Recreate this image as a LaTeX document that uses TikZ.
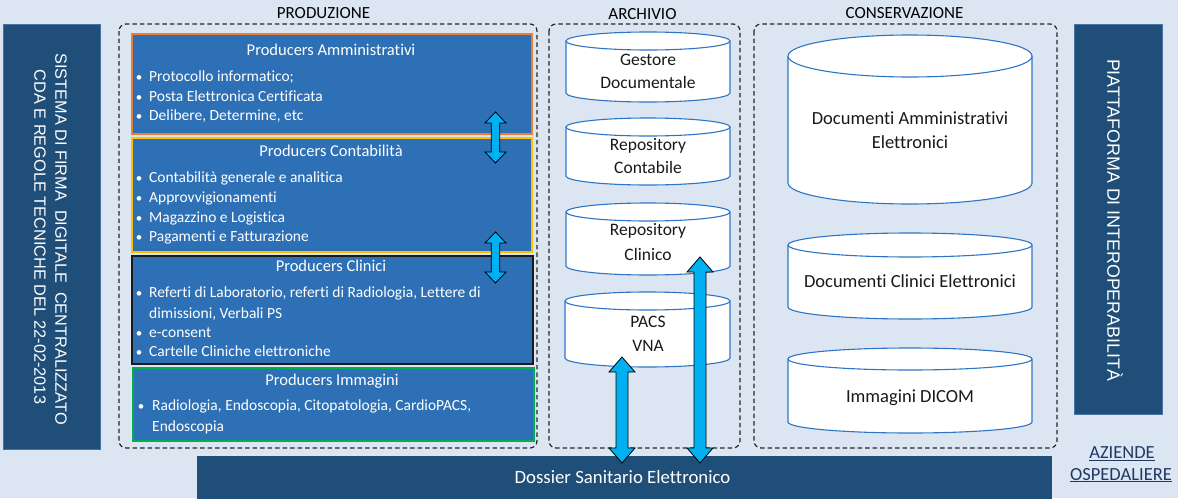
\documentclass[tikz,border=0pt]{standalone}
\usepackage{fontspec}
\setmainfont{Carlito}[Ligatures=NoCommon]
\newfontfamily\arialf{Liberation Sans}
\definecolor{bgc}{HTML}{DCE6F2}
\definecolor{darkpanel}{HTML}{1F4E79}
\definecolor{panelborder}{HTML}{4A72A8}
\definecolor{prodblue}{HTML}{2E70B5}
\definecolor{ammborder}{HTML}{ED7D31}
\definecolor{contborder}{HTML}{FFC000}
\definecolor{clinborder}{HTML}{1A1A1A}
\definecolor{immborder}{HTML}{00B050}
\definecolor{cylline}{HTML}{2E75C6}
\definecolor{arrcyan}{HTML}{00B0F0}
\definecolor{aziende}{HTML}{203864}
\newcommand\cylinder[6]{%
  \pgfmathsetmacro\cylrx{(#4-#2)/2}%
  \filldraw[cylstyle] (#2,-#3-#6) -- (#2,-#5+#6)
     arc[start angle=180,end angle=360,x radius=\cylrx pt,y radius=#6 pt]
     -- (#4,-#3-#6)
     arc[start angle=0,end angle=180,x radius=\cylrx pt,y radius=#6 pt] -- cycle;
  \draw[cylstyle] (#2,-#3-#6) arc[start angle=180,end angle=360,x radius=\cylrx pt,y radius=#6 pt];
  \coordinate (#1) at ({(#2+#4)/2},{-(#3+#5)/2});
}
\newcommand\blockarrow[7]{%
  \coordinate (#1 top) at (#2,-#3);
  \coordinate (#1 bot) at (#2,-#4);
  \filldraw[blockarr] (#1 top) -- ++(#6,-#7) -- ++({-(#6-#5)},0) -- ++(0,{-(#4-#3-2*#7)})
     -- ++({#6-#5},0) -- (#1 bot) -- ++({-#6},#7) -- ++({#6-#5},0)
     -- ++(0,{#4-#3-2*#7}) -- ++({-(#6-#5)},0) -- cycle;
}
\tikzset{
  cylstyle/.style={draw=cylline, fill=white, line width=1.1pt},
  blockarr/.style={draw=black, fill=arrcyan, line width=0.8pt, line join=miter},
  panel/.style={fill=darkpanel, draw=panelborder, line width=0.8pt, anchor=north west, inner sep=0},
  prodbox/.style={fill=prodblue, line width=1.5pt, anchor=north west, inner sep=0},
  dashbox/.style={draw=black!85, dash pattern=on 4.5pt off 3pt, line width=1.2pt, rounded corners=7pt},
  ptitle/.style={anchor=base, text=white, inner sep=0, font=\fontsize{16.5}{20}\selectfont},
  pitem/.style={anchor=base west, text=white, inner sep=0, font=\fontsize{15.5}{19}\selectfont},
  pbullet/.style={anchor=base, text=white, inner sep=0, font=\fontsize{13}{19}\selectfont},
  seclabel/.style={anchor=base, text=black, inner sep=0, font=\fontsize{17}{20}\selectfont},
  cyltext/.style={anchor=base, text=black!90, inner sep=0, font=\fontsize{17.5}{22}\selectfont},
  vtext/.style={text=white, inner sep=0, rotate=-90},
}
\begin{document}
\begin{tikzpicture}[x=1pt,y=1pt]
\useasboundingbox (0,0) rectangle (1178,-498);
\fill[bgc] (0,0) rectangle (1178,-498);

% side panels
\node[panel, minimum width=97pt, minimum height=425pt] (leftpanel) at (3,-24) {};
\node[vtext, font=\arialf\fontsize{16.3}{20}\selectfont] (lefttext1) at (61,-239) {SISTEMA DI FIRMA\ \ DIGITALE\ \ CENTRALIZZATO};
\node[vtext, font=\arialf\fontsize{16.3}{20}\selectfont] (lefttext2) at (40,-237) {CDA E REGOLE TECNICHE DEL 22-02-2013};
\node[panel, minimum width=88pt, minimum height=390pt] (rightpanel) at (1074,-24) {};
\node[vtext, font=\arialf\fontsize{17.8}{20}\selectfont] (righttext) at (1115,-220) {PIATTAFORMA DI INTEROPERABILITÀ};

% dashed groups
\draw[dashbox] (119,-24) rectangle (537,-448);
\draw[dashbox] (549,-24) rectangle (740,-448);
\draw[dashbox] (754,-24) rectangle (1057,-448);
\node[seclabel] (lprod) at (323.5,-18.3) {PRODUZIONE};
\node[seclabel] (larch) at (642.5,-19.5) {ARCHIVIO};
\node[seclabel] (lcons) at (904.5,-18.3) {CONSERVAZIONE};

% producers
\node[prodbox, draw=ammborder, minimum width=400pt, minimum height=100pt] (amm) at (131,-33) {};
\node[prodbox, draw=contborder, minimum width=400pt, minimum height=114pt] (cont) at (131,-137) {};
\node[prodbox, draw=clinborder, minimum width=401pt, minimum height=108pt] (clin) at (131,-255) {};
\node[prodbox, draw=immborder, minimum width=401pt, minimum height=73pt] (imm) at (132,-367) {};

\node[ptitle] (ammt) at (331,-55) {Producers Amministrativi};
\node[pbullet] (ammb1) at (139,-81.7) {•};
\node[pitem] (ammi1) at (149,-81.7) {Protocollo informatico;};
\node[pbullet] (ammb2) at (139,-101.7) {•};
\node[pitem] (ammi2) at (149,-101.7) {Posta Elettronica Certificata};
\node[pbullet] (ammb3) at (139,-120.7) {•};
\node[pitem] (ammi3) at (149,-120.7) {Delibere, Determine, etc};

\node[ptitle] (contt) at (331,-156.7) {Producers Contabilità};
\node[pbullet] (contb1) at (139,-182.7) {•};
\node[pitem] (conti1) at (149,-182.7) {Contabilità generale e analitica};
\node[pbullet] (contb2) at (139,-202.7) {•};
\node[pitem] (conti2) at (149,-202.7) {Approvvigionamenti};
\node[pbullet] (contb3) at (139,-222.2) {•};
\node[pitem] (conti3) at (149,-222.2) {Magazzino e Logistica};
\node[pbullet] (contb4) at (139,-241.7) {•};
\node[pitem] (conti4) at (149,-241.7) {Pagamenti e Fatturazione};

\node[ptitle] (clint) at (331,-271.7) {Producers Clinici};
\node[pbullet] (clinb1) at (139,-297.7) {•};
\node[pitem] (clini1) at (149,-297.7) {Referti di Laboratorio, referti di Radiologia, Lettere di};
\node[pitem] (clini1b) at (149,-318) {dimissioni, Verbali PS};
\node[pbullet] (clinb2) at (139,-337.3) {•};
\node[pitem] (clini2) at (149,-337.3) {e-consent};
\node[pbullet] (clinb3) at (139,-356.7) {•};
\node[pitem] (clini3) at (149,-356.7) {Cartelle Cliniche elettroniche};

\node[ptitle] (immt) at (332,-385) {Producers Immagini};
\node[pbullet] (immb1) at (141,-410.7) {•};
\node[pitem] (immi1) at (152,-410.7) {Radiologia, Endoscopia, Citopatologia, CardioPACS,};
\node[pitem] (immi1b) at (152,-431) {Endoscopia};

% archive cylinders
\cylinder{gestore}{566}{32}{730}{102}{9}
\node[cyltext] (gestore1) at (648,-65) {Gestore};
\node[cyltext] (gestore2) at (648,-88.3) {Documentale};
\cylinder{repcont}{566}{118}{730}{185}{9}
\node[cyltext] (repcont1) at (648,-150) {Repository};
\node[cyltext] (repcont2) at (648,-173.3) {Contabile};
\cylinder{repclin}{566}{203}{730}{275}{9}
\node[cyltext] (repclin1) at (648,-235) {Repository};
\node[cyltext] (repclin2) at (648,-260) {Clinico};
\cylinder{pacs}{565}{292}{730}{367}{9}
\node[cyltext] (pacs1) at (648,-327.3) {PACS};
\node[cyltext] (pacs2) at (648,-351) {VNA};

% conservation cylinders
\cylinder{docamm}{788}{35}{1032}{204}{21}
\node[cyltext, font=\fontsize{18.5}{22}\selectfont] (docamm1) at (910,-124) {Documenti Amministrativi};
\node[cyltext, font=\fontsize{18.5}{22}\selectfont] (docamm2) at (910,-148.3) {Elettronici};
\cylinder{docclin}{788}{233}{1032}{319}{12}
\node[cyltext, font=\fontsize{18.5}{22}\selectfont] (docclin1) at (910,-287.7) {Documenti Clinici Elettronici};
\cylinder{dicom}{788}{348}{1032}{433}{11}
\node[cyltext, font=\fontsize{18.5}{22}\selectfont] (dicom1) at (910,-402.7) {Immagini DICOM};

% dossier bar
\node[fill=darkpanel, anchor=north west, inner sep=0, minimum width=855pt, minimum height=44pt] (dossier) at (197,-456) {};
\node[anchor=base, text=white, inner sep=0, font=\fontsize{18.8}{22}\selectfont] (dossiert) at (622.5,-483.3) {Dossier Sanitario Elettronico};

% aziende
\node[anchor=base, text=aziende, inner sep=0, font=\fontsize{18.5}{22}\selectfont] (az1) at (1122,-458.3) {\underline{AZIENDE}};
\node[anchor=base, text=aziende, inner sep=0, font=\fontsize{18.5}{22}\selectfont] (az2) at (1121,-480) {\underline{OSPEDALIERE}};

% arrows
\blockarrow{arrA}{495.5}{112}{163}{4.2}{10.5}{11}
\blockarrow{arrB}{495.5}{232}{283}{4.2}{10.5}{11}
\blockarrow{arrC}{622}{357}{463}{6}{13}{15}
\blockarrow{arrD}{700}{257}{463}{6}{13}{15}
\end{tikzpicture}
\end{document}
